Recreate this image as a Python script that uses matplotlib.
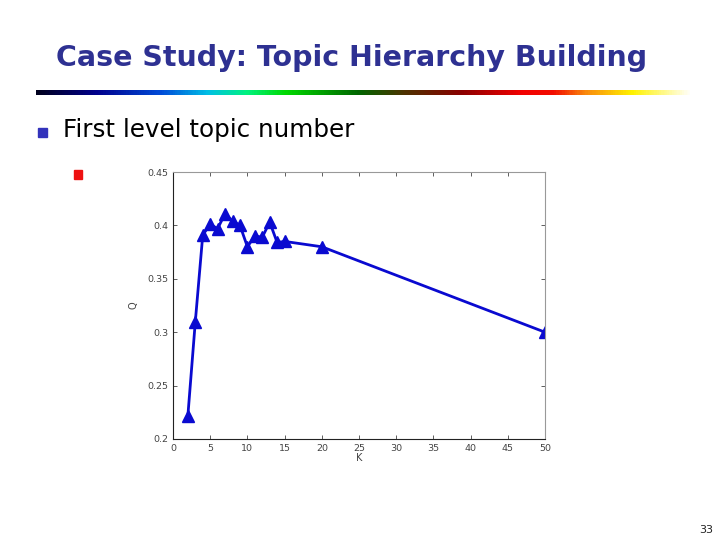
import numpy as np
import matplotlib
matplotlib.use('Agg')
from matplotlib import pyplot as plt
from matplotlib.colors import LinearSegmentedColormap

# data
K = [2, 3, 4, 5, 6, 7, 8, 9, 10, 11, 12, 13, 14, 15, 20, 50]
Q = [0.222, 0.310, 0.391, 0.401, 0.397, 0.411, 0.404, 0.400, 0.380,
     0.390, 0.389, 0.403, 0.384, 0.385, 0.380, 0.300]
xticks = [0, 5, 10, 15, 20, 25, 30, 35, 40, 45, 50]
yticks = [0.2, 0.25, 0.3, 0.35, 0.4, 0.45]

title = 'Case Study: Topic Hierarchy Building'
bullet = 'First level topic number'

W, H = 720, 540
fig = plt.figure(figsize=(W / 100, H / 100), dpi=100)

def fx(px):
    return px / W

def fy(py):
    return 1 - py / H

# title
fig.text(fx(352), fy(58), title, ha='center', va='center', fontsize=20.5,
         fontweight='bold', color='#2e3192')

# rainbow rule under the title
stops = [(0.0, (0.0, 0.0, 0.12)), (0.09, (0.0, 0.0, 0.55)),
         (0.19, (0.0, 0.3, 0.85)), (0.26, (0.0, 0.75, 0.9)),
         (0.32, (0.0, 0.95, 0.5)), (0.38, (0.0, 0.85, 0.0)),
         (0.49, (0.0, 0.4, 0.0)), (0.56, (0.3, 0.2, 0.0)),
         (0.65, (0.55, 0.0, 0.0)), (0.74, (0.95, 0.0, 0.0)),
         (0.79, (0.95, 0.05, 0.0)), (0.84, (0.98, 0.55, 0.05)),
         (0.91, (1.0, 0.95, 0.0)), (1.0, (1.0, 1.0, 1.0))]
cmap = LinearSegmentedColormap.from_list('rule', stops)
rule = fig.add_axes([fx(36), fy(95.5), fx(693) - fx(36), 6 / H])
rule.imshow(np.linspace(0, 1, 600)[None, :], aspect='auto', cmap=cmap)
rule.axis('off')

# bullets
fig.patches.append(plt.Rectangle((fx(38), fy(137)), 9 / W, 9 / H,
                                 transform=fig.transFigure, color='#3333bb'))
fig.text(fx(63), fy(130), bullet, ha='left', va='center', fontsize=17.7,
         color='black')
fig.patches.append(plt.Rectangle((fx(74), fy(179)), 8 / W, 9 / H,
                                 transform=fig.transFigure, color='#ee1111'))

# page number
fig.text(fx(713), fy(530), '33', ha='right', va='center', fontsize=8,
         color='#222222')

# the chart
ax = fig.add_axes([fx(173), fy(439), fx(545) - fx(173), (439 - 172) / H])
ax.plot(K, Q, '-^', color='#0a0ad0', lw=2, ms=8.5, mfc='#0a0ad0', mec='#0a0ad0')
ax.set_xlim(0, 50)
ax.set_ylim(0.2, 0.45)
ax.set_xticks(xticks)
ax.set_yticks(yticks)
ax.set_yticklabels(['0.2', '0.25', '0.3', '0.35', '0.4', '0.45'])
ax.tick_params(direction='in', top=True, right=True, labelsize=6.8,
               colors='#444444', length=3, width=0.6)
for s in ['top', 'right']:
    ax.spines[s].set_color('#999999')
for s in ['left', 'bottom']:
    ax.spines[s].set_color('#222222')
for s in ax.spines.values():
    s.set_linewidth(0.8)
ax.set_xlabel('K', fontsize=7, color='#444444', labelpad=0)
ax.set_ylabel('Q', fontsize=7, color='#444444', labelpad=6)

fig.savefig('out.png', dpi=100)
